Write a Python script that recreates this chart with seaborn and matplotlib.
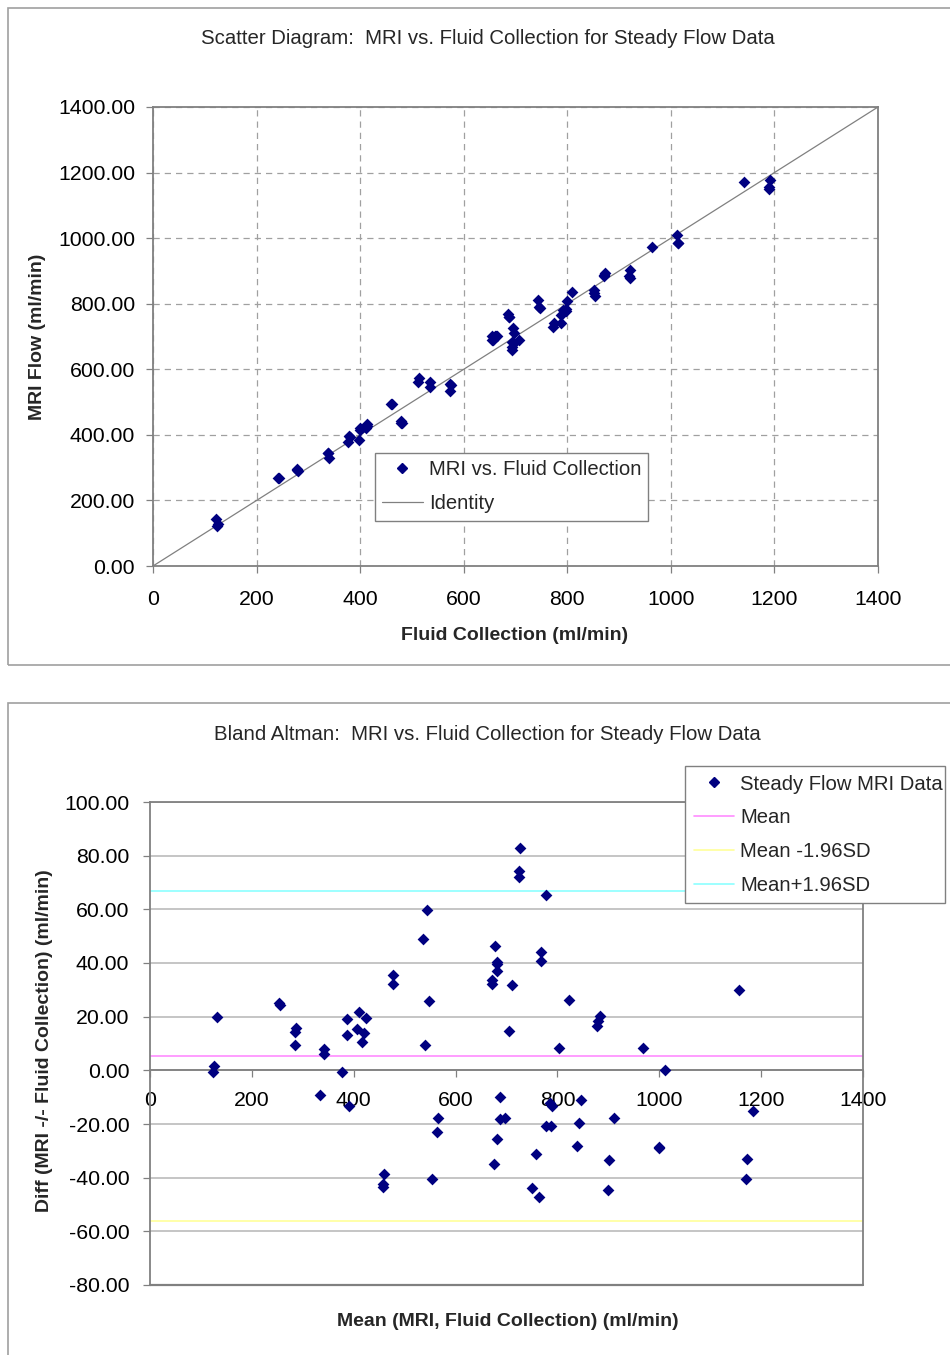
import matplotlib
matplotlib.use('Agg')
import matplotlib.pyplot as plt
import seaborn as sns
import pandas as pd
from matplotlib.patches import Rectangle
from matplotlib.lines import Line2D

# ---------------- data ----------------
fluid = [123, 125, 122, 241, 244, 279, 278, 280, 337, 338, 339, 377, 378, 380, 397,
         400, 414, 399, 414, 412, 459, 461, 479, 478, 480, 514, 512, 534, 535, 574,
         575, 573, 655, 661, 662, 664, 655, 656, 693, 697, 706, 694, 693, 686, 687,
         688, 744, 695, 697, 745, 747, 810, 873, 871, 870, 799, 964, 1011, 1142, 792,
         797, 852, 788, 798, 852, 921, 853, 774, 919, 1013, 1014, 773, 788, 921, 1192,
         1190, 1190]
mri = [123, 127, 142, 267, 268, 295, 292, 290, 345, 344, 329, 377, 397, 394, 383,
       422, 434, 415, 428, 422, 495, 493, 441, 436, 436, 574, 561, 560, 545, 556,
       552, 533, 701, 701, 702, 701, 689, 688, 683, 679, 688, 668, 658, 768, 761,
       760, 810, 727, 711, 789, 788, 836, 893, 889, 886, 807, 972, 1011, 1172, 780,
       783, 841, 767, 777, 832, 903, 825, 742, 885, 985, 985, 729, 740, 877, 1176,
       1156, 1150]

ba_mean = [123, 126, 132, 254, 256, 287, 285, 285, 341, 341, 334, 377, 387, 387, 390,
           411, 424, 407, 421, 417, 477, 477, 460, 457, 458, 544, 536, 547, 540, 565,
           563, 553, 678, 681, 682, 682, 672, 672, 688, 688, 697, 681, 675, 727, 724,
           724, 777, 711, 704, 767, 767, 823, 883, 880, 878, 803, 968, 1011, 1157, 786,
           790, 846, 777, 787, 842, 912, 839, 758, 902, 999, 999, 751, 764, 899, 1184,
           1173, 1170]
ba_diff = [-0.6, 1.6, 20.0, 25.2, 24.4, 15.6, 14.4, 9.4, 7.8, 6.2, -9.3, -0.6, 19.1, 13.2, -13.3,
           21.7, 19.6, 15.3, 14.0, 10.7, 35.4, 32.3, -38.7, -42.3, -43.3, 59.6, 49.0, 25.7, 9.4, -17.6,
           -23.0, -40.6, 46.5, 40.3, 39.5, 37.0, 33.6, 32.0, -9.8, -18.2, -17.6, -25.7, -35.0, 82.8, 74.1,
           72.2, 65.4, 31.7, 14.8, 44.2, 40.9, 26.1, 20.4, 18.5, 16.7, 8.5, 8.5, 0.0, 29.8, -12.2,
           -13.4, -10.9, -20.9, -20.9, -19.7, -17.8, -28.2, -31.3, -33.5, -28.4, -29.0, -43.9, -47.2, -44.5, -15.3,
           -33.2, -40.4]

mean_diff = 5.4
lower_limit = -56.0
upper_limit = 66.7

x_ticks = [0, 200, 400, 600, 800, 1000, 1200, 1400]
top_y_ticks = [0, 200, 400, 600, 800, 1000, 1200, 1400]
bot_y_ticks = [-80, -60, -40, -20, 0, 20, 40, 60, 80, 100]

top_title = "Scatter Diagram:  MRI vs. Fluid Collection for Steady Flow Data"
bot_title = "Bland Altman:  MRI vs. Fluid Collection for Steady Flow Data"

# ---------------- style ----------------
sns.set_style("white")
plt.rcParams['font.family'] = ['Liberation Sans', 'DejaVu Sans']

NAVY = '#000080'
GRAY = '#808080'
PINK = '#ff8cff'
YELLOW = '#ffff99'
CYAN = '#8cffff'
W, H = 950, 1355
TICK_FS = 15.3
LEG_FS = 14.6
TITLE_FS = 14.7
LABEL_FS = 14.0

fig = plt.figure(figsize=(9.5, 13.55), dpi=100)
fig.patch.set_facecolor('white')

def fx(px):
    return px / W

def fy(py):
    return 1 - py / H

# panel borders
fig.add_artist(Rectangle((fx(8), fy(665)), 1.2, fy(8) - fy(665), transform=fig.transFigure,
                         fill=False, edgecolor='#a0a0a0', lw=1.2))
fig.add_artist(Rectangle((fx(8), fy(1400)), 1.2, fy(703) - fy(1400), transform=fig.transFigure,
                         fill=False, edgecolor='#a0a0a0', lw=1.2))

# ---------------- top: scatter ----------------
ax1 = fig.add_axes([fx(153), fy(566), fx(878) - fx(153), fy(107) - fy(566)])
df_top = pd.DataFrame({'Fluid': fluid, 'MRI': mri})
ax1.plot([0, 1400], [0, 1400], color=GRAY, lw=0.9, zorder=2)
sns.scatterplot(data=df_top, x='Fluid', y='MRI', marker='D', s=36, color=NAVY,
                edgecolor=NAVY, linewidth=0, ax=ax1, zorder=3, legend=False)
ax1.set_xlim(0, 1400)
ax1.set_ylim(0, 1400)
ax1.set_xticks(x_ticks)
ax1.set_xticklabels([str(v) for v in x_ticks])
ax1.set_yticks(top_y_ticks)
ax1.set_yticklabels([f"{v:.2f}" for v in top_y_ticks])
ax1.grid(True, linestyle=(0, (5, 4)), color='#a0a0a0', lw=0.9)
ax1.set_axisbelow(True)
for sp in ax1.spines.values():
    sp.set_color(GRAY)
    sp.set_linewidth(1.3)
ax1.tick_params(bottom=True, left=True, direction='out', length=5, width=0.9, color=GRAY,
                labelsize=TICK_FS, labelcolor='black')
ax1.tick_params(axis='x', pad=12)
ax1.tick_params(axis='y', pad=8)
ax1.set_xlabel('')
ax1.set_ylabel('')

h_sc = Line2D([], [], marker='D', linestyle='none', color=NAVY, markersize=5.5)
h_id = Line2D([], [], color=GRAY, lw=0.9)
leg1 = ax1.legend([h_sc, h_id], ['MRI vs. Fluid Collection', 'Identity'],
                  loc='upper left', bbox_to_anchor=(0.306, 0.1, 0.3766, 0.1462), mode='expand',
                  borderaxespad=0, fontsize=LEG_FS, frameon=True, fancybox=False, framealpha=1,
                  edgecolor=GRAY, borderpad=0.36, labelspacing=0.74, handlelength=2.0,
                  handletextpad=0.3)
leg1.get_frame().set_linewidth(1.0)

fig.text(fx(487.5), fy(39), top_title, ha='center', va='center', fontsize=TITLE_FS)
fig.text(fx(38), fy(337), 'MRI Flow (ml/min)', rotation=90, ha='center', va='center',
         fontsize=LABEL_FS, fontweight='bold')
fig.text(fx(515), fy(635), 'Fluid Collection (ml/min)', ha='center', va='center',
         fontsize=LABEL_FS, fontweight='bold')

# ---------------- bottom: Bland-Altman ----------------
ax2 = fig.add_axes([fx(150), fy(1285), fx(863) - fx(150), fy(802) - fy(1285)])
df_bot = pd.DataFrame({'Mean': ba_mean, 'Diff': ba_diff})
ax2.set_xlim(0, 1400)
ax2.set_ylim(-80, 100)
ax2.set_yticks(bot_y_ticks)
ax2.set_yticklabels([f"{v:.2f}" for v in bot_y_ticks])
ax2.set_xticks(x_ticks)
ax2.set_xticklabels([str(v) for v in x_ticks])
ax2.yaxis.grid(True, color='#c0c0c0', lw=1.3)
ax2.xaxis.grid(False)
ax2.set_axisbelow(True)
ax2.axhline(mean_diff, color=PINK, lw=1.2, zorder=2)
ax2.axhline(lower_limit, color=YELLOW, lw=1.2, zorder=2)
ax2.axhline(upper_limit, color=CYAN, lw=1.2, zorder=2)
sns.scatterplot(data=df_bot, x='Mean', y='Diff', marker='D', s=36, color=NAVY,
                edgecolor=NAVY, linewidth=0, ax=ax2, zorder=3, legend=False)
ax2.spines['bottom'].set_position(('data', 0))
for sp in ax2.spines.values():
    sp.set_color(GRAY)
    sp.set_linewidth(1.3)
ax2.axhline(-80, color=GRAY, lw=1.6, clip_on=False, zorder=4)
ax2.tick_params(bottom=True, left=True, direction='out', length=5, width=0.9, color=GRAY,
                labelsize=TICK_FS, labelcolor='black')
ax2.tick_params(axis='x', pad=10)
ax2.tick_params(axis='y', pad=10)
ax2.set_xlabel('')
ax2.set_ylabel('')

h_m = Line2D([], [], color=PINK, lw=1.2)
h_lo = Line2D([], [], color=YELLOW, lw=1.2)
h_up = Line2D([], [], color=CYAN, lw=1.2)
h_sc2 = Line2D([], [], marker='D', linestyle='none', color=NAVY, markersize=5.5)
leg2 = fig.legend([h_sc2, h_m, h_lo, h_up],
                  ['Steady Flow MRI Data', 'Mean', 'Mean -1.96SD', 'Mean+1.96SD'],
                  loc='upper left', bbox_to_anchor=(fx(685), fy(901), fx(945) - fx(685), fy(766) - fy(901)),
                  mode='expand', borderaxespad=0, fontsize=LEG_FS, frameon=True, fancybox=False,
                  framealpha=1, edgecolor=GRAY, borderpad=0.42, labelspacing=0.73,
                  handlelength=2.0, handletextpad=0.3)
leg2.get_frame().set_linewidth(1.0)

fig.text(fx(487.5), fy(734), bot_title, ha='center', va='center', fontsize=TITLE_FS)
fig.text(fx(45), fy(1041), 'Diff (MRI -/- Fluid Collection) (ml/min)', rotation=90,
         ha='center', va='center', fontsize=LABEL_FS, fontweight='bold')
fig.text(fx(508), fy(1322), 'Mean (MRI, Fluid Collection) (ml/min)', ha='center', va='center',
         fontsize=LABEL_FS, fontweight='bold')

fig.savefig('out.png', dpi=100, facecolor='white')
